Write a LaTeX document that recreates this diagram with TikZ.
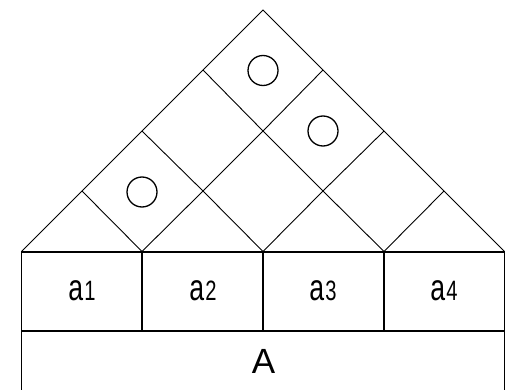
\documentclass[tikz,border=0pt]{standalone}
\usepackage{fontspec}
\setmainfont{Liberation Sans}
\begin{document}
\begin{tikzpicture}[x=1pt,y=-1pt,
  grid line/.style={line width=0.9pt},
  table line/.style={line width=1.8pt},
  mark circle/.style={circle,draw,line width=1.3pt,minimum size=30pt,inner sep=0pt},
  cell label/.style={inner sep=0pt,xscale=0.72,transform shape},
  big label/.style={inner sep=0pt,font=\fontsize{35}{35}\selectfont}]
\useasboundingbox (0,0) rectangle (508,390);
% lattice points
\coordinate (b0) at (21.5,251.5);
\coordinate (b1) at (142,251.5);
\coordinate (b2) at (263,251.5);
\coordinate (b3) at (384,251.5);
\coordinate (b4) at (504.5,251.5);
\coordinate (apex) at (263,10);
\coordinate (l1) at (82,191);
\coordinate (l2) at (142,131);
\coordinate (l3) at (203,70);
\coordinate (r1) at (444,191);
\coordinate (r2) at (384,131);
\coordinate (r3) at (323,70);
\coordinate (m) at (263,131);
\coordinate (c1) at (203,191);
\coordinate (c2) at (323,191);
% diagonals
\draw[grid line] (b0) -- (apex) -- (b4);
\draw[grid line] (b1) -- (c1) -- (m) -- (r3);
\draw[grid line] (b2) -- (c2) -- (r2);
\draw[grid line] (b3) -- (r1);
\draw[grid line] (b3) -- (c2) -- (m) -- (l3);
\draw[grid line] (b2) -- (c1) -- (l2);
\draw[grid line] (b1) -- (l1);
% circles
\node[mark circle] (o1) at (263,70.5) {};
\node[mark circle] (o2) at (323,131) {};
\node[mark circle] (o3) at (142,192) {};
% table
\coordinate (tl) at (21.5,252);
\coordinate (tr) at (504.5,252);
\coordinate (bl) at (21.5,390);
\coordinate (br) at (504.5,390);
\coordinate (ml) at (21.5,331);
\coordinate (mr) at (504.5,331);
\draw[table line] (bl) -- (tl) -- (tr) -- (br);
\draw[table line] (ml) -- (mr);
\coordinate (v1t) at (142,252); \coordinate (v1b) at (142,331);
\coordinate (v2t) at (263,252); \coordinate (v2b) at (263,331);
\coordinate (v3t) at (384,252); \coordinate (v3b) at (384,331);
\draw[table line] (v1t) -- (v1b);
\draw[table line] (v2t) -- (v2b);
\draw[table line] (v3t) -- (v3b);
% labels
\newcommand{\celltext}[1]{{\fontsize{37}{37}\selectfont a}\,{\fontsize{28}{28}\selectfont #1}}
\node[cell label] (a1) at (82,291) {\celltext{1}};
\node[cell label] (a2) at (203,291) {\celltext{2}};
\node[cell label] (a3) at (323,291) {\celltext{3}};
\node[cell label] (a4) at (444,291) {\celltext{4}};
\node[big label] (A) at (263.5,361) {A};
\end{tikzpicture}
\end{document}
